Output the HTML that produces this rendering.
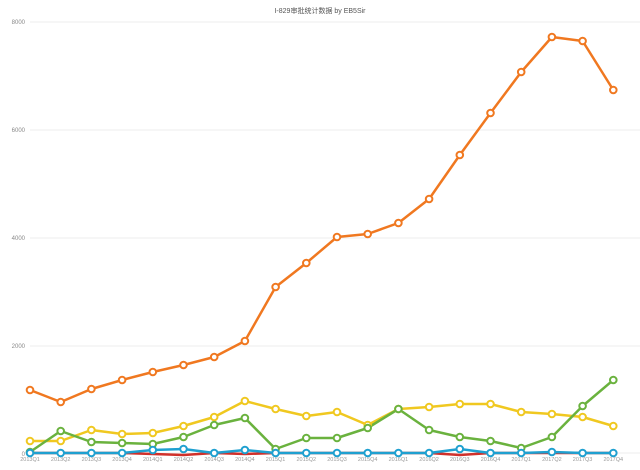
<!DOCTYPE html><html><head><meta charset="utf-8"><style>body{margin:0;background:#fff}svg{display:block}</style></head><body>
<svg width="640" height="470" xmlns="http://www.w3.org/2000/svg" font-family="Liberation Sans, Noto Sans CJK SC, sans-serif">
<text x="320" y="13" font-size="7" fill="#555" text-anchor="middle">I-829审批统计数据 by EB5Sir</text>
<g stroke="#eee" stroke-width="1">
<line x1="30" y1="22" x2="640" y2="22"/><line x1="30" y1="130" x2="640" y2="130"/><line x1="30" y1="238" x2="640" y2="238"/><line x1="30" y1="346" x2="640" y2="346"/><line x1="30" y1="453" x2="640" y2="453"/></g>
<g font-size="6" fill="#888" text-anchor="end">
<text x="25" y="24">8000</text><text x="25" y="132">6000</text><text x="25" y="240">4000</text><text x="25" y="348">2000</text><text x="25" y="456">0</text></g>
<g font-size="5.5" fill="#999" text-anchor="middle">
<text x="30" y="461">2013Q1</text><text x="60.7" y="461">2013Q2</text><text x="91.4" y="461">2013Q3</text><text x="122.1" y="461">2013Q4</text><text x="152.8" y="461">2014Q1</text><text x="183.5" y="461">2014Q2</text><text x="214.2" y="461">2014Q3</text><text x="244.9" y="461">2014Q4</text><text x="275.6" y="461">2015Q1</text><text x="306.3" y="461">2015Q2</text><text x="337" y="461">2015Q3</text><text x="367.7" y="461">2015Q4</text><text x="398.4" y="461">2016Q1</text><text x="429.1" y="461">2016Q2</text><text x="459.8" y="461">2016Q3</text><text x="490.5" y="461">2016Q4</text><text x="521.2" y="461">2017Q1</text><text x="551.9" y="461">2017Q2</text><text x="582.6" y="461">2017Q3</text><text x="613.3" y="461">2017Q4</text></g>
<g fill="none" stroke-width="2.5" stroke-linejoin="round">
<polyline stroke="#d0302a" points="30,453 60.7,453 91.4,453 122.1,453 152.8,454 183.5,455 214.2,453 244.9,454 275.6,453 306.3,453 337,453 367.7,453 398.4,453 429.1,453 459.8,455 490.5,453 521.2,453 551.9,453 582.6,453 613.3,453"/>
<polyline stroke="#f07820" points="30,390 60.7,402 91.4,389 122.1,380 152.8,372 183.5,365 214.2,357 244.9,341 275.6,287 306.3,263 337,237 367.7,234 398.4,223 429.1,199 459.8,155 490.5,113 521.2,72 551.9,37 582.6,41 613.3,90"/>
<polyline stroke="#f0c820" points="30,441 60.7,441 91.4,430 122.1,434 152.8,433 183.5,426 214.2,417 244.9,401 275.6,409 306.3,416 337,412 367.7,425 398.4,409 429.1,407 459.8,404 490.5,404 521.2,412 551.9,414 582.6,417 613.3,426"/>
<polyline stroke="#6ab23e" points="30,452 60.7,431 91.4,442 122.1,443 152.8,444 183.5,437 214.2,425 244.9,418 275.6,449 306.3,438 337,438 367.7,428 398.4,409 429.1,430 459.8,437 490.5,441 521.2,448 551.9,437 582.6,406 613.3,380"/>
<polyline stroke="#1fa0d0" points="30,453 60.7,453 91.4,453 122.1,453 152.8,450 183.5,449 214.2,453 244.9,450 275.6,453 306.3,453 337,453 367.7,453 398.4,453 429.1,453 459.8,449 490.5,453 521.2,453 551.9,452 582.6,453 613.3,453"/>
</g>
<g fill="#fff" stroke-width="2" stroke="#f07820">
<circle cx="30" cy="390" r="3.3"/><circle cx="60.7" cy="402" r="3.3"/><circle cx="91.4" cy="389" r="3.3"/><circle cx="122.1" cy="380" r="3.3"/><circle cx="152.8" cy="372" r="3.3"/><circle cx="183.5" cy="365" r="3.3"/><circle cx="214.2" cy="357" r="3.3"/><circle cx="244.9" cy="341" r="3.3"/><circle cx="275.6" cy="287" r="3.3"/><circle cx="306.3" cy="263" r="3.3"/><circle cx="337" cy="237" r="3.3"/><circle cx="367.7" cy="234" r="3.3"/><circle cx="398.4" cy="223" r="3.3"/><circle cx="429.1" cy="199" r="3.3"/><circle cx="459.8" cy="155" r="3.3"/><circle cx="490.5" cy="113" r="3.3"/><circle cx="521.2" cy="72" r="3.3"/><circle cx="551.9" cy="37" r="3.3"/><circle cx="582.6" cy="41" r="3.3"/><circle cx="613.3" cy="90" r="3.3"/></g>
<g fill="#fff" stroke-width="2" stroke="#f0c820">
<circle cx="30" cy="441" r="3.3"/><circle cx="60.7" cy="441" r="3.3"/><circle cx="91.4" cy="430" r="3.3"/><circle cx="122.1" cy="434" r="3.3"/><circle cx="152.8" cy="433" r="3.3"/><circle cx="183.5" cy="426" r="3.3"/><circle cx="214.2" cy="417" r="3.3"/><circle cx="244.9" cy="401" r="3.3"/><circle cx="275.6" cy="409" r="3.3"/><circle cx="306.3" cy="416" r="3.3"/><circle cx="337" cy="412" r="3.3"/><circle cx="367.7" cy="425" r="3.3"/><circle cx="398.4" cy="409" r="3.3"/><circle cx="429.1" cy="407" r="3.3"/><circle cx="459.8" cy="404" r="3.3"/><circle cx="490.5" cy="404" r="3.3"/><circle cx="521.2" cy="412" r="3.3"/><circle cx="551.9" cy="414" r="3.3"/><circle cx="582.6" cy="417" r="3.3"/><circle cx="613.3" cy="426" r="3.3"/></g>
<g fill="#fff" stroke-width="2" stroke="#6ab23e">
<circle cx="30" cy="452" r="3.3"/><circle cx="60.7" cy="431" r="3.3"/><circle cx="91.4" cy="442" r="3.3"/><circle cx="122.1" cy="443" r="3.3"/><circle cx="152.8" cy="444" r="3.3"/><circle cx="183.5" cy="437" r="3.3"/><circle cx="214.2" cy="425" r="3.3"/><circle cx="244.9" cy="418" r="3.3"/><circle cx="275.6" cy="449" r="3.3"/><circle cx="306.3" cy="438" r="3.3"/><circle cx="337" cy="438" r="3.3"/><circle cx="367.7" cy="428" r="3.3"/><circle cx="398.4" cy="409" r="3.3"/><circle cx="429.1" cy="430" r="3.3"/><circle cx="459.8" cy="437" r="3.3"/><circle cx="490.5" cy="441" r="3.3"/><circle cx="521.2" cy="448" r="3.3"/><circle cx="551.9" cy="437" r="3.3"/><circle cx="582.6" cy="406" r="3.3"/><circle cx="613.3" cy="380" r="3.3"/></g>
<g fill="#fff" stroke-width="2" stroke="#1fa0d0">
<circle cx="30" cy="453" r="3.3"/><circle cx="60.7" cy="453" r="3.3"/><circle cx="91.4" cy="453" r="3.3"/><circle cx="122.1" cy="453" r="3.3"/><circle cx="152.8" cy="450" r="3.3"/><circle cx="183.5" cy="449" r="3.3"/><circle cx="214.2" cy="453" r="3.3"/><circle cx="244.9" cy="450" r="3.3"/><circle cx="275.6" cy="453" r="3.3"/><circle cx="306.3" cy="453" r="3.3"/><circle cx="337" cy="453" r="3.3"/><circle cx="367.7" cy="453" r="3.3"/><circle cx="398.4" cy="453" r="3.3"/><circle cx="429.1" cy="453" r="3.3"/><circle cx="459.8" cy="449" r="3.3"/><circle cx="490.5" cy="453" r="3.3"/><circle cx="521.2" cy="453" r="3.3"/><circle cx="551.9" cy="452" r="3.3"/><circle cx="582.6" cy="453" r="3.3"/><circle cx="613.3" cy="453" r="3.3"/></g>
</svg></body></html>
